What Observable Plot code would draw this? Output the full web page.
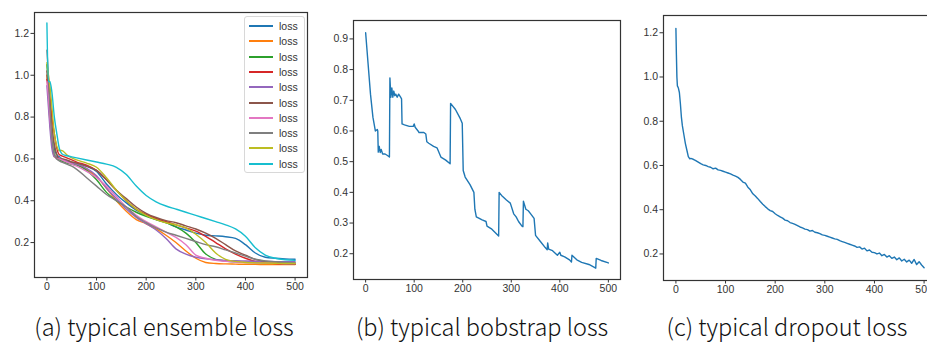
<!DOCTYPE html>
<html><head><meta charset="utf-8">
<script src="https://cdn.jsdelivr.net/npm/d3@7"></script>
<script src="https://cdn.jsdelivr.net/npm/@observablehq/plot@0.6"></script>
<style>
html,body{margin:0;padding:0;background:#fff;overflow:hidden;}
#root{position:relative;width:927px;height:342px;overflow:hidden;}
.panel{position:absolute;top:0;}
.cap{position:absolute;top:312px;font-family:"Noto Sans CJK KR","Noto Sans",sans-serif;font-weight:300;font-size:23.5px;color:#111;white-space:nowrap;transform:translateX(-50%);line-height:28px;}
#legend{position:absolute;left:244px;top:16px;width:59px;height:155px;border:1px solid #d8d8d8;border-radius:3px;background:rgba(255,255,255,0.85);}
.lrow{position:absolute;left:0;height:14px;font-family:"Liberation Sans",Arial,sans-serif;font-size:10.5px;color:#333;}
.lrow span.sw{position:absolute;left:4px;top:6px;width:24px;height:2px;}
.lrow span.tx{position:absolute;left:34px;top:0px;line-height:14px;}
</style>
</head><body>
<div id="root"></div>
<script>
// ---------- data ----------
const xTicks = [0, 100, 200, 300, 400, 500];
const yTicksA = [0.2, 0.4, 0.6, 0.8, 1.0, 1.2];
const yTicksB = [0.2, 0.3, 0.4, 0.5, 0.6, 0.7, 0.8, 0.9];
const yTicksC = [0.2, 0.4, 0.6, 0.8, 1.0, 1.2];
const captions = ["(a) typical ensemble loss", "(b) typical bobstrap loss", "(c) typical dropout loss"];
const seriesNames = ["loss","loss","loss","loss","loss","loss","loss","loss","loss","loss"];
const seriesColors = ["#1f77b4","#ff7f0e","#2ca02c","#d62728","#9467bd","#8c564b","#e377c2","#7f7f7f","#bcbd22","#17becf"];

// (a) ensemble: shared epochs, 10 runs
const ensX = [0,3,6,10,15,20,25,30,40,50,60,80,100,120,140,160,180,200,220,240,260,280,300,320,340,360,380,400,420,440,460,480,500];
const ensBlue   = [1.00,0.93,0.85,0.75,0.65,0.62,0.61,0.60,0.59,0.585,0.58,0.565,0.54,0.48,0.43,0.39,0.355,0.33,0.31,0.295,0.275,0.26,0.245,0.235,0.232,0.228,0.22,0.19,0.15,0.13,0.125,0.122,0.12];
const ensOrange = [1.00,0.90,0.78,0.68,0.61,0.605,0.605,0.60,0.59,0.585,0.575,0.55,0.515,0.46,0.40,0.35,0.31,0.29,0.265,0.235,0.20,0.16,0.125,0.105,0.10,0.098,0.097,0.096,0.096,0.095,0.095,0.095,0.095];
const ensGreen  = [1.05,0.95,0.85,0.72,0.63,0.60,0.595,0.59,0.58,0.575,0.57,0.545,0.50,0.44,0.40,0.37,0.345,0.325,0.31,0.295,0.275,0.245,0.20,0.145,0.12,0.112,0.108,0.106,0.105,0.104,0.104,0.103,0.103];
const ensRed    = [0.98,0.95,0.90,0.80,0.72,0.65,0.62,0.615,0.605,0.595,0.585,0.57,0.545,0.50,0.45,0.40,0.36,0.335,0.315,0.30,0.285,0.27,0.255,0.23,0.20,0.17,0.145,0.125,0.11,0.104,0.10,0.098,0.097];
const ensPurple = [0.95,0.85,0.75,0.65,0.61,0.61,0.605,0.60,0.59,0.58,0.575,0.555,0.52,0.46,0.41,0.36,0.32,0.29,0.26,0.22,0.17,0.145,0.13,0.122,0.118,0.115,0.113,0.112,0.111,0.110,0.109,0.108,0.108];
const ensBrown  = [1.02,0.95,0.85,0.75,0.67,0.62,0.60,0.60,0.595,0.585,0.58,0.565,0.545,0.50,0.45,0.41,0.37,0.34,0.32,0.305,0.295,0.28,0.265,0.245,0.22,0.19,0.16,0.14,0.12,0.11,0.105,0.10,0.098];
const ensPink   = [0.97,0.90,0.80,0.70,0.62,0.60,0.60,0.595,0.585,0.575,0.565,0.54,0.51,0.47,0.42,0.37,0.33,0.30,0.275,0.25,0.225,0.19,0.14,0.125,0.115,0.11,0.107,0.105,0.103,0.102,0.101,0.10,0.10];
const ensGray   = [1.12,1.00,0.85,0.70,0.62,0.60,0.59,0.585,0.575,0.565,0.55,0.51,0.47,0.43,0.40,0.37,0.325,0.295,0.27,0.25,0.235,0.22,0.205,0.19,0.18,0.165,0.15,0.135,0.12,0.112,0.108,0.105,0.103];
const ensOlive  = [1.06,1.00,0.95,0.85,0.72,0.66,0.64,0.64,0.62,0.605,0.595,0.58,0.56,0.51,0.45,0.40,0.36,0.33,0.31,0.295,0.285,0.27,0.24,0.20,0.15,0.12,0.11,0.105,0.103,0.102,0.101,0.10,0.10];
const ensCyan   = [1.25,0.97,0.97,0.92,0.80,0.72,0.65,0.625,0.615,0.61,0.605,0.595,0.585,0.575,0.56,0.525,0.47,0.425,0.395,0.375,0.36,0.345,0.33,0.315,0.30,0.285,0.265,0.23,0.175,0.14,0.125,0.118,0.115];
const ensSeries = [ensBlue,ensOrange,ensGreen,ensRed,ensPurple,ensBrown,ensPink,ensGray,ensOlive,ensCyan];

// (b) bootstrap loss
const bootX = [0,5,10,15,20,24,25,26,28,30,32,35,40,45,49,50,52,54,56,58,60,62,65,68,72,74,75,80,90,98,100,102,108,110,120,124,126,130,140,147,155,165,174,175,185,195,199,201,205,215,223,225,228,240,248,250,260,274,275,280,290,298,305,310,315,322,324,325,330,335,340,347,350,360,370,374,375,377,385,395,400,402,410,420,424,425,435,445,460,474,475,485,500];
const bootY = [0.92,0.82,0.72,0.645,0.60,0.605,0.60,0.531,0.55,0.53,0.54,0.525,0.525,0.52,0.515,0.773,0.71,0.74,0.71,0.73,0.715,0.72,0.71,0.72,0.71,0.705,0.623,0.62,0.615,0.615,0.623,0.612,0.60,0.595,0.595,0.59,0.565,0.56,0.55,0.545,0.515,0.505,0.493,0.69,0.67,0.64,0.625,0.471,0.45,0.425,0.40,0.345,0.32,0.31,0.305,0.29,0.28,0.258,0.40,0.39,0.375,0.365,0.33,0.32,0.305,0.29,0.288,0.371,0.345,0.34,0.33,0.315,0.26,0.24,0.22,0.213,0.235,0.215,0.21,0.195,0.205,0.195,0.19,0.18,0.173,0.195,0.18,0.172,0.165,0.153,0.185,0.178,0.17];

// (c) dropout loss
const dropX = [0,1,2,3,5,7,9,11,13,16,19,22,25,28,30,35,40,45,50,55,60,65,70,75,80,85,90,95,100,105,110,115,120,125,130,135,140,145,150,155,160,165,170,175,180,185,190,195,200,205,210,215,220,225,230,235,240,245,250,255,260,265,270,275,280,285,290,295,300,305,310,315,320,325,330,335,340,345,350,355,360,365,370,375,380,385,390,395,400,405,410,415,420,425,430,435,440,445,450,455,460,465,470,475,480,485,490,495,500];
const dropY = [1.22,1.10,1.00,0.96,0.95,0.93,0.88,0.82,0.78,0.74,0.70,0.67,0.64,0.63,0.632,0.628,0.622,0.615,0.608,0.603,0.600,0.595,0.592,0.585,0.588,0.580,0.578,0.574,0.570,0.566,0.562,0.556,0.552,0.546,0.537,0.525,0.520,0.502,0.490,0.472,0.462,0.450,0.437,0.425,0.414,0.404,0.396,0.392,0.382,0.374,0.368,0.362,0.353,0.350,0.342,0.338,0.334,0.328,0.322,0.318,0.312,0.310,0.303,0.306,0.298,0.296,0.292,0.286,0.284,0.280,0.276,0.272,0.268,0.266,0.260,0.256,0.252,0.248,0.244,0.240,0.236,0.230,0.232,0.222,0.226,0.214,0.218,0.208,0.206,0.200,0.204,0.192,0.198,0.186,0.192,0.180,0.186,0.174,0.182,0.168,0.176,0.164,0.172,0.158,0.175,0.152,0.165,0.150,0.138];

// ---------- helpers ----------
const root = document.getElementById("root");
const axisStyle = {fontFamily: "'Liberation Sans', Arial, sans-serif", fontSize: "10.5px", color: "#333", background: "transparent", overflow: "visible"};

function panel({left, width, height, margins, xDomain, yDomain, yTicks, marks}) {
  const p = Plot.plot({
    width, height,
    marginLeft: margins[0], marginRight: margins[1], marginTop: margins[2], marginBottom: margins[3],
    x: {domain: xDomain},
    y: {domain: yDomain},
    style: axisStyle,
    marks: [
      ...marks,
      Plot.axisX({ticks: xTicks, tickSize: 3.5, tickPadding: 2, label: null, tickFormat: d3.format("d")}),
      Plot.axisY({ticks: yTicks, tickSize: 3.5, tickPadding: 2, label: null, tickFormat: d3.format(".1f")}),
      Plot.frame({stroke: "#333", strokeWidth: 1.2})
    ]
  });
  p.classList.add("panel");
  p.style.left = left + "px";
  root.appendChild(p);
}

// (a)
const ensData = [];
ensSeries.forEach((s, k) => s.forEach((v, i) => ensData.push({x: ensX[i], y: v, k})));
panel({
  left: 0, width: 310, height: 300, margins: [34, 3, 12, 23],
  xDomain: [-25, 525], yDomain: [0.033, 1.30], yTicks: yTicksA,
  marks: [Plot.line(ensData, {x: "x", y: "y", z: "k", stroke: d => seriesColors[d.k], strokeWidth: 1.4, curve: "monotone-x"})]
});

// (b)
panel({
  left: 320, width: 303, height: 300, margins: [33, 3, 20, 21],
  xDomain: [-25, 525], yDomain: [0.116, 0.96], yTicks: yTicksB,
  marks: [Plot.line(bootX.map((x, i) => ({x, y: bootY[i]})), {x: "x", y: "y", stroke: "#1f77b4", strokeWidth: 1.4})]
});

// (c)
panel({
  left: 630, width: 310, height: 300, margins: [33, 4, 15, 20],
  xDomain: [-25, 525], yDomain: [0.08, 1.278], yTicks: yTicksC,
  marks: [Plot.line(dropX.map((x, i) => ({x, y: dropY[i]})), {x: "x", y: "y", stroke: "#1f77b4", strokeWidth: 1.4})]
});

// legend for (a)
const lg = document.createElement("div");
lg.id = "legend";
seriesNames.forEach((n, i) => {
  const r = document.createElement("div");
  r.className = "lrow";
  r.style.top = (2 + i * 15.3) + "px";
  r.innerHTML = `<span class="sw" style="background:${seriesColors[i]}"></span><span class="tx">${n}</span>`;
  lg.appendChild(r);
});
root.appendChild(lg);

// captions
const capX = [164, 482, 787];
captions.forEach((c, i) => {
  const d = document.createElement("div");
  d.className = "cap";
  d.style.left = capX[i] + "px";
  d.textContent = c;
  root.appendChild(d);
});
</script>
</body></html>
